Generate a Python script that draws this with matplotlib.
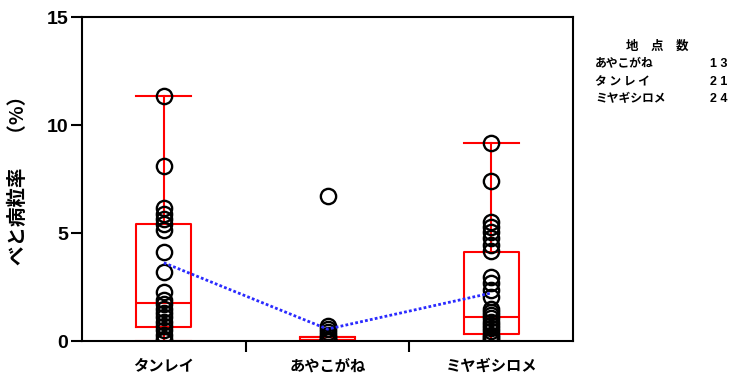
import matplotlib.pyplot as plt

# カテゴリ（品種）
varieties = ['タンレイ', 'あやこがね', 'ミヤギシロメ']

# 各地点のべと病粒率（%）— 図から読み取り
tanrei = [11.35, 8.1, 6.15, 5.9, 5.65, 5.4, 5.15, 4.13, 3.2, 2.28,
          1.9, 1.7, 1.5, 1.3, 1.1, 0.9, 0.7, 0.5, 0.3, 0.1, 0.0]
ayakogane = [6.73, 0.7, 0.55, 0.4, 0.3, 0.2, 0.1, 0.05, 0.0, 0.0, 0.0, 0.0, 0.0]
miyagi = [9.15, 7.4, 5.5, 5.3, 5.05, 4.75, 4.45, 4.15, 2.98, 2.67, 2.36, 2.05,
          1.5, 1.35, 1.2, 1.05, 0.9, 0.75, 0.6, 0.45, 0.3, 0.2, 0.1, 0.0]
values = [tanrei, ayakogane, miyagi]

# 箱ひげ図の統計量
whis_lo = [0.0, 0.0, 0.0]
q1 = [0.65, 0.0, 0.32]
median = [1.75, 0.05, 1.13]
q3 = [5.42, 0.18, 4.14]
whis_hi = [11.35, 0.18, 9.15]

# 平均値（青い点線）
means = [3.62, 0.55, 2.22]

# 凡例の表：地点数
table_names = ['あやこがね', 'タ ン レ イ', 'ミヤギシロメ']
table_counts = ['1 3', '2 1', '2 4']

jp = ['Noto Sans CJK JP', 'DejaVu Sans']
num = ['Liberation Sans', 'DejaVu Sans']

fig = plt.figure(figsize=(7.36, 3.79), dpi=100)
ax = fig.add_axes([82 / 736, 1 - 341 / 379, 491 / 736, 324 / 379])

pos = [0.5, 1.5, 2.5]
stats = []
for i in range(3):
    stats.append({'whislo': whis_lo[i], 'q1': q1[i], 'med': median[i],
                  'q3': q3[i], 'whishi': whis_hi[i], 'fliers': []})

red = dict(color='#ff0000', linewidth=1.5)
ax.bxp(stats, positions=pos, widths=0.335, capwidths=0.335,
       boxprops=red, whiskerprops=red, capprops=red, medianprops=red,
       showfliers=False, manage_ticks=False, zorder=2)

for p, v in zip(pos, values):
    ax.plot([p] * len(v), v, linestyle='none', marker='o', markersize=11,
            markerfacecolor='none', markeredgecolor='black',
            markeredgewidth=1.7, zorder=3)

ax.plot(pos, means, color='#2a2aff', linewidth=2.0,
        linestyle=(0, (1, 0.8)), zorder=4)

ax.set_xlim(0, 3)
ax.set_ylim(0, 15)
ax.set_yticks([0, 5, 10, 15])
ax.set_xticks([1, 2])
ax.set_xticklabels([])
ax.set_xticks(pos, minor=True)
ax.set_xticklabels(varieties, minor=True, fontfamily=jp, fontweight='bold',
                   fontsize=11)
ax.tick_params(axis='x', which='minor', length=0, pad=12)
ax.tick_params(axis='both', which='major', length=8, width=1.5,
               direction='out')
ax.tick_params(axis='y', pad=2)
for lab in ax.get_yticklabels():
    lab.set_fontfamily(num)
    lab.set_fontweight('bold')
    lab.set_fontsize(14)
for s in ax.spines.values():
    s.set_linewidth(1.5)

fig.text(18 / 736, 1 - 175 / 379, 'べと病粒率　 （%）', rotation=90,
         ha='center', va='center', fontfamily=jp, fontweight='bold',
         fontsize=14)

# 右側の表
fig.text(657 / 736, 1 - 46 / 379, '地　点　数', ha='center', va='center',
         fontfamily=jp, fontweight='bold', fontsize=9)
row_y = [64, 82, 99]
for name, cnt, y in zip(table_names, table_counts, row_y):
    fig.text(595 / 736, 1 - y / 379, name, ha='left', va='center',
             fontfamily=jp, fontweight='bold', fontsize=8.5)
    fig.text(727 / 736, 1 - y / 379, cnt, ha='right', va='center',
             fontfamily=num, fontweight='bold', fontsize=9)

fig.savefig('out.png', dpi=100)
